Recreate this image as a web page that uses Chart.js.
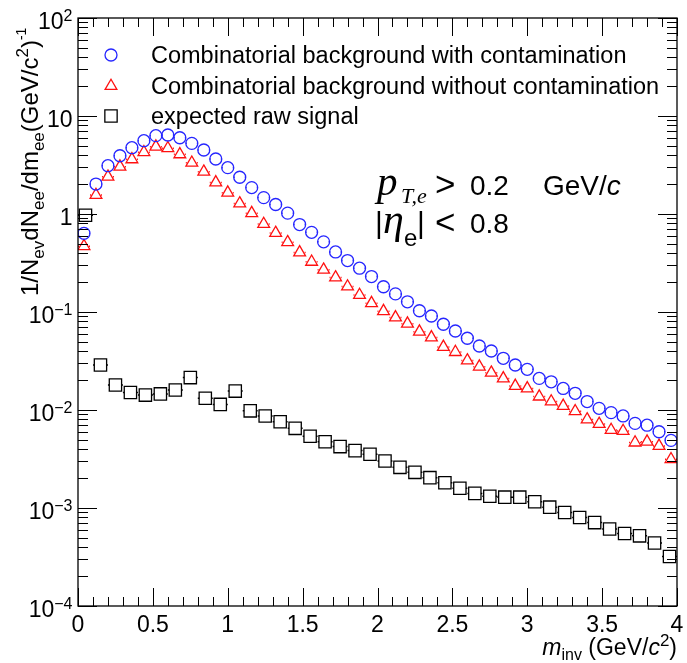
<!DOCTYPE html>
<html>
<head>
<meta charset="utf-8">
<script src="https://cdn.jsdelivr.net/npm/chart.js@4"></script>
<style>
  html, body { margin: 0; padding: 0; background: #fff; }
  #wrap { width: 687px; height: 663px; }
</style>
</head>
<body>
<div id="wrap"><canvas id="minvChart" width="687" height="663"></canvas></div>
<script>
// bin centres in m_inv (GeV/c^2), 0.08 wide bins for the background
const binsBkg = [0.04, 0.12, 0.20, 0.28, 0.36, 0.44, 0.52, 0.60, 0.68, 0.76,
  0.84, 0.92, 1.00, 1.08, 1.16, 1.24, 1.32, 1.40, 1.48, 1.56,
  1.64, 1.72, 1.80, 1.88, 1.96, 2.04, 2.12, 2.20, 2.28, 2.36,
  2.44, 2.52, 2.60, 2.68, 2.76, 2.84, 2.92, 3.00, 3.08, 3.16,
  3.24, 3.32, 3.40, 3.48, 3.56, 3.64, 3.72, 3.80, 3.88, 3.96];

const bkgWithContam = [0.635, 2.02, 3.11, 3.93, 4.75, 5.6, 6.3, 6.4, 6.0, 5.26,
  4.5, 3.64, 2.97, 2.37, 1.86, 1.47, 1.25, 1.02, 0.78, 0.65,
  0.52, 0.41, 0.335, 0.28, 0.23, 0.181, 0.153, 0.127, 0.103, 0.091,
  0.075, 0.064, 0.054, 0.045, 0.040, 0.0337, 0.0288, 0.026, 0.021, 0.0194,
  0.0166, 0.0148, 0.0122, 0.0104, 0.0094, 0.0087, 0.0073, 0.0070, 0.0060, 0.0049];

const bkgNoContam = [0.47, 1.56, 2.40, 3.04, 3.61, 4.26, 4.86, 4.68, 4.06, 3.33,
  2.70, 2.10, 1.65, 1.28, 1.02, 0.79, 0.64, 0.515, 0.405, 0.325,
  0.27, 0.225, 0.182, 0.149, 0.123, 0.102, 0.088, 0.076, 0.063, 0.055,
  0.044, 0.039, 0.032, 0.0277, 0.024, 0.021, 0.0176, 0.0166, 0.0137, 0.0122,
  0.011, 0.0097, 0.0080, 0.0072, 0.00625, 0.0061, 0.00465, 0.00475, 0.0043, 0.00314];

// signal uses 0.1 wide bins
const binsSig = [0.05, 0.15, 0.25, 0.35, 0.45, 0.55, 0.65, 0.75, 0.85, 0.95,
  1.05, 1.15, 1.25, 1.35, 1.45, 1.55, 1.65, 1.75, 1.85, 1.95,
  2.05, 2.15, 2.25, 2.35, 2.45, 2.55, 2.65, 2.75, 2.85, 2.95,
  3.05, 3.15, 3.25, 3.35, 3.45, 3.55, 3.65, 3.75, 3.85, 3.95];

const rawSignal = [0.97, 0.0288, 0.0180, 0.0151, 0.0142, 0.0146, 0.0160, 0.0214, 0.0132, 0.0114,
  0.0156, 0.0098, 0.0087, 0.0076, 0.0065, 0.0054, 0.00475, 0.00423, 0.00385, 0.00353,
  0.00302, 0.0026, 0.00231, 0.00204, 0.00181, 0.00159, 0.00141, 0.00132, 0.00129, 0.00129,
  0.00116, 0.00102, 0.00090, 0.0008, 0.00071, 0.00061, 0.00055, 0.00052, 0.00044, 0.00032];

const seriesLabels = [
  'Combinatorial background with contamination',
  'Combinatorial background without contamination',
  'expected raw signal'
];

const xTicks = [0, 0.5, 1, 1.5, 2, 2.5, 3, 3.5, 4];
const xTickLabels = ['0', '0.5', '1', '1.5', '2', '2.5', '3', '3.5', '4'];
const yTicks = [1e-4, 1e-3, 1e-2, 1e-1, 1, 10, 100];
// mantissa / exponent pairs
const yTickLabels = [['10', '\u22124'], ['10', '\u22123'], ['10', '\u22122'], ['10', '\u22121'],
  ['1', ''], ['10', ''], ['10', '2']];

const SANS = '"Liberation Sans", Arial, Helvetica, sans-serif';
const SERIF = '"Liberation Serif", "Times New Roman", serif';

function toPoints(xs, ys) {
  return xs.map((x, i) => ({ x: x, y: ys[i] }));
}

// draw a list of text runs along one baseline, returns end x
function drawRuns(ctx, runs, x, y) {
  for (const r of runs) {
    ctx.font = r.font;
    ctx.fillText(r.t, x, y + (r.dy || 0));
    x += ctx.measureText(r.t).width + (r.gap || 0);
  }
  return x;
}
function runsWidth(ctx, runs) {
  let w = 0;
  for (const r of runs) {
    ctx.font = r.font;
    w += ctx.measureText(r.t).width + (r.gap || 0);
  }
  return w;
}

// horizontal bin-width bars beside each marker
const binBars = {
  id: 'binBars',
  beforeDatasetsDraw(chart) {
    const { ctx, scales: { x } } = chart;
    ctx.save();
    chart.data.datasets.forEach((ds, i) => {
      const meta = chart.getDatasetMeta(i);
      ctx.strokeStyle = ds.borderColor;
      ctx.lineWidth = 1.5;
      ctx.beginPath();
      meta.data.forEach((pt, j) => {
        const xv = ds.data[j].x;
        const lo = x.getPixelForValue(xv - ds.halfBin);
        const hi = x.getPixelForValue(xv + ds.halfBin);
        const g = ds.barGap;
        if (pt.x - lo > g) { ctx.moveTo(lo, pt.y); ctx.lineTo(pt.x - g, pt.y); }
        if (hi - pt.x > g) { ctx.moveTo(pt.x + g, pt.y); ctx.lineTo(hi, pt.y); }
      });
      ctx.stroke();
    });
    ctx.restore();
  }
};

// frame with inward ticks, tick labels, titles, legend and cut text
const rootFrame = {
  id: 'rootFrame',
  afterDatasetsDraw(chart) {
    const { ctx, chartArea: a, scales: { x, y } } = chart;
    ctx.save();
    ctx.strokeStyle = '#000';
    ctx.lineWidth = 1.3;
    ctx.strokeRect(a.left, a.top, a.right - a.left, a.bottom - a.top);

    ctx.lineWidth = 1;
    ctx.beginPath();
    for (let i = 0; i <= 40; i++) {
      const px = Math.round(x.getPixelForValue(i / 10)) + 0.5;
      const len = i % 5 === 0 ? 18 : 9;
      ctx.moveTo(px, a.bottom); ctx.lineTo(px, a.bottom - len);
      ctx.moveTo(px, a.top); ctx.lineTo(px, a.top + len);
    }
    for (let e = -4; e <= 2; e++) {
      for (let m = 1; m < 10; m++) {
        if (e === 2 && m > 1) break;
        const py = Math.round(y.getPixelForValue(m * Math.pow(10, e))) + 0.5;
        const len = m === 1 ? 19 : 10;
        ctx.moveTo(a.left, py); ctx.lineTo(a.left + len, py);
        ctx.moveTo(a.right, py); ctx.lineTo(a.right - len, py);
      }
    }
    ctx.stroke();

    ctx.fillStyle = '#000';
    // x tick labels
    ctx.font = '23px ' + SANS;
    ctx.textAlign = 'center';
    ctx.textBaseline = 'alphabetic';
    xTicks.forEach((v, i) => {
      ctx.fillText(xTickLabels[i], x.getPixelForValue(v), a.bottom + 26);
    });

    // y tick labels, right aligned
    ctx.textAlign = 'left';
    yTicks.forEach((v, i) => {
      const py = y.getPixelForValue(v);
      const runs = [{ t: yTickLabels[i][0], font: '23px ' + SANS }];
      if (yTickLabels[i][1]) runs.push({ t: yTickLabels[i][1], font: '16px ' + SANS, dy: -8 });
      const w = runsWidth(ctx, runs);
      drawRuns(ctx, runs, 72.5 - w, py + 11);
    });

    // y axis title, rotated
    ctx.save();
    ctx.translate(38, 296);
    ctx.rotate(-Math.PI / 2);
    const big = '24px ' + SANS, small = '17px ' + SANS, tiny = '14px ' + SANS;
    drawRuns(ctx, [
      { t: '1/N', font: big },
      { t: 'ev', font: small, dy: 6 },
      { t: 'dN', font: big },
      { t: 'ee', font: small, dy: 6 },
      { t: '/dm', font: big },
      { t: 'ee', font: small, dy: 6 },
      { t: '(GeV/c', font: big },
      { t: '2', font: small, dy: -10 },
      { t: ')', font: big },
      { t: '-1', font: tiny, dy: -12 }
    ], 0, 0);
    ctx.restore();

    // x axis title
    const xt = [
      { t: 'm', font: 'italic 23px ' + SANS },
      { t: 'inv', font: '16px ' + SANS, dy: 5 },
      { t: ' (GeV/', font: '23px ' + SANS },
      { t: 'c', font: 'italic 23px ' + SANS },
      { t: '2', font: '17px ' + SANS, dy: -9 },
      { t: ')', font: '23px ' + SANS }
    ];
    drawRuns(ctx, xt, a.right - runsWidth(ctx, xt), 655);

    // legend
    const rows = [55, 86, 116];
    chart.data.datasets.forEach((ds, i) => {
      ctx.save();
      ctx.strokeStyle = ds.borderColor;
      ctx.fillStyle = 'rgba(0,0,0,0)';
      ctx.lineWidth = ds.borderWidth;
      Chart.helpers.drawPoint(ctx, {
        pointStyle: ds.pointStyle, radius: ds.pointRadius, rotation: 0, borderWidth: ds.borderWidth
      }, 111, rows[i]);
      ctx.restore();
      ctx.font = '23.5px ' + SANS;
      ctx.fillText(ds.label, 151, rows[i] + 8);
    });

    // kinematic cuts
    drawRuns(ctx, [{ t: 'p', font: 'italic 41px ' + SERIF }], 377, 195);
    drawRuns(ctx, [{ t: 'T,e', font: 'italic 22px ' + SERIF }], 401, 203);
    drawRuns(ctx, [{ t: '>', font: '35px ' + SANS }], 435, 196);
    drawRuns(ctx, [{ t: '0.2', font: '28px ' + SANS }], 470, 195);
    drawRuns(ctx, [{ t: 'GeV/', font: '28px ' + SANS }, { t: 'c', font: 'italic 28px ' + SANS }], 543, 195);

    drawRuns(ctx, [{ t: '|', font: '30px ' + SANS }], 375, 233);
    drawRuns(ctx, [{ t: '\u03B7', font: 'italic 42px ' + SERIF }], 383, 233);
    drawRuns(ctx, [{ t: 'e', font: '24px ' + SANS }], 404, 246);
    drawRuns(ctx, [{ t: '|', font: '30px ' + SANS }], 417, 233);
    drawRuns(ctx, [{ t: '<', font: '35px ' + SANS }], 435, 234);
    drawRuns(ctx, [{ t: '0.8', font: '28px ' + SANS }], 470, 233);

    ctx.restore();
  }
};

new Chart(document.getElementById('minvChart'), {
  type: 'scatter',
  data: {
    datasets: [
      {
        label: seriesLabels[0],
        data: toPoints(binsBkg, bkgWithContam),
        pointStyle: 'circle',
        pointRadius: 6,
        borderWidth: 1.3,
        borderColor: '#2626ff',
        backgroundColor: 'rgba(0,0,0,0)',
        halfBin: 0.04,
        barGap: 5
      },
      {
        label: seriesLabels[1],
        data: toPoints(binsBkg, bkgNoContam),
        pointStyle: 'triangle',
        pointRadius: 6.8,
        borderWidth: 1.3,
        borderColor: '#ff1010',
        backgroundColor: 'rgba(0,0,0,0)',
        halfBin: 0.04,
        barGap: 5
      },
      {
        label: seriesLabels[2],
        data: toPoints(binsSig, rawSignal),
        pointStyle: 'rect',
        pointRadius: 8.7,
        borderWidth: 1.3,
        borderColor: '#000000',
        backgroundColor: 'rgba(0,0,0,0)',
        halfBin: 0.05,
        barGap: 6
      }
    ]
  },
  options: {
    responsive: false,
    animation: false,
    events: [],
    layout: { padding: { left: 78, right: 3, top: 18, bottom: 57 } },
    plugins: { legend: { display: false }, tooltip: { enabled: false } },
    scales: {
      x: { type: 'linear', min: 0, max: 4, display: false },
      y: { type: 'logarithmic', min: 1e-4, max: 100, display: false }
    }
  },
  plugins: [binBars, rootFrame]
});
</script>
</body>
</html>
